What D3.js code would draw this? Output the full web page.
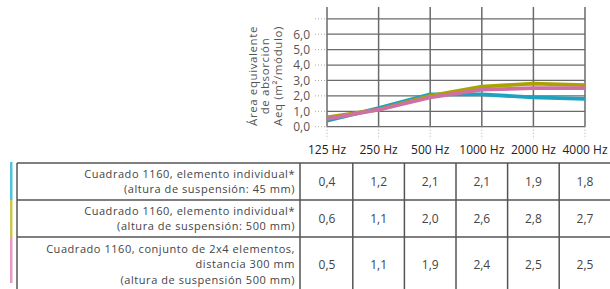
<!DOCTYPE html>
<html><head><meta charset="utf-8">
<script src="https://cdn.jsdelivr.net/npm/d3@7"></script>
<style>
html,body{margin:0;padding:0;background:#fff;}
svg{display:block;font-family:"Open Sans",sans-serif;}
</style></head>
<body>
<svg id="c" width="610" height="289"></svg>
<script>
const categories = ["125 Hz","250 Hz","500 Hz","1000 Hz","2000 Hz","4000 Hz"];
const seriesNames = [
  ["Cuadrado 1160, elemento individual*","(altura de suspensión: 45 mm)"],
  ["Cuadrado 1160, elemento individual*","(altura de suspensión: 500 mm)"],
  ["Cuadrado 1160, conjunto de 2x4 elementos,","distancia 300 mm","(altura de suspensión 500 mm)"]
];
const s1 = [0.4,1.2,2.1,2.1,1.9,1.8];
const s2 = [0.6,1.1,2.0,2.6,2.8,2.7];
const s3 = [0.5,1.1,1.9,2.4,2.5,2.5];
const yTicks = [0,1,2,3,4,5,6];
const yTickLabels = ["0,0","1,0","2,0","3,0","4,0","5,0","6,0"];
const yLabel = ["Área equivalente","de absorción","Aeq (m²/módulo)"];
const series = [s1,s2,s3];
const lineColors = ["#1ea2bd","#a9a300","#cf6fa4"];
const legendColors = ["#4ec3da","#c9c84c","#e79ac6"];

const svg = d3.select("#c");
const x = d3.scalePoint().domain(categories).range([327,585]);
const y = d3.scaleLinear().domain([0,7]).range([126.7,18.8]);
const grid = "#6a6a6a";

const gAll = d3.range(0,8);
svg.append("g").selectAll("line").data(gAll).join("line")
  .attr("x1",327).attr("x2",585).attr("y1",d=>y(d)).attr("y2",d=>y(d))
  .attr("stroke",grid).attr("stroke-width",1.3);
svg.append("g").selectAll("line").data(gAll).join("line")
  .attr("x1",315).attr("x2",326).attr("y1",d=>y(d)).attr("y2",d=>y(d))
  .attr("stroke","#aaa").attr("stroke-width",1).attr("stroke-dasharray","1,2");
svg.append("g").selectAll("line").data(categories).join("line")
  .attr("x1",d=>x(d)).attr("x2",d=>x(d)).attr("y1",7).attr("y2",y(0))
  .attr("stroke",grid).attr("stroke-width",1.5);
svg.append("g").selectAll("line").data(categories).join("line")
  .attr("x1",d=>x(d)).attr("x2",d=>x(d)).attr("y1",y(0)).attr("y2",139)
  .attr("stroke","#aaa").attr("stroke-width",1).attr("stroke-dasharray","1,2");

svg.append("g").selectAll("text").data(yTicks).join("text")
  .attr("x",310).attr("y",d=>y(d)).attr("dy","0.36em")
  .attr("text-anchor","end").attr("font-size",12).attr("fill","#555")
  .text((d,i)=>yTickLabels[i]);

const yl = svg.append("text").attr("transform","translate(265,76) rotate(-90)")
  .attr("text-anchor","middle").attr("font-size",11.5).attr("letter-spacing",0.6).attr("fill","#555");
yLabel.forEach((t,i)=>yl.append("tspan").attr("x",0).attr("y",(i-1)*12.5+4).text(t));

svg.append("g").selectAll("text").data(categories).join("text")
  .attr("x",d=>x(d)).attr("y",154).attr("text-anchor","middle")
  .attr("font-size",12).attr("font-weight",500).attr("fill","#222").text(d=>d);

const line = d3.line().x((d,i)=>x(categories[i])).y(d=>y(d));
svg.append("g").selectAll("path").data(series).join("path")
  .attr("d",line).attr("fill","none")
  .attr("stroke",(d,i)=>lineColors[i]).attr("stroke-width",3.8)
  .attr("stroke-linejoin","round");

const rowEdges = [163,200,237,290];
const tbl = svg.append("g");
const step = x.step();
const colEdges = [17,300].concat(categories.slice(1).map(c=>x(c)-step/2)).concat([615]);
series.forEach((s,i)=>{
  const t0 = i===0?162:rowEdges[i], t1 = i===2?283:rowEdges[i+1];
  tbl.append("rect").attr("x",10).attr("width",2.5).attr("y",t0).attr("height",t1-t0)
    .attr("fill",legendColors[i]);
});
rowEdges.forEach(ry=>tbl.append("line").attr("x1",17).attr("x2",615).attr("y1",ry).attr("y2",ry)
  .attr("stroke","#555").attr("stroke-width",1.5));
colEdges.forEach(cx=>tbl.append("line").attr("x1",cx).attr("x2",cx).attr("y1",rowEdges[0]).attr("y2",289)
  .attr("stroke","#555").attr("stroke-width",1.5));
series.forEach((s,i)=>{
  const top=rowEdges[i], bot=Math.min(rowEdges[i+1],288), mid=(top+bot)/2 + (i===2?2:0);
  const lines=seriesNames[i];
  const lh=15.4;
  lines.forEach((t,j)=>{
    tbl.append("text").attr("x",295).attr("y",mid+(j-(lines.length-1)/2)*lh).attr("dy","0.35em")
      .attr("text-anchor","end").attr("font-size",11).attr("letter-spacing",0.55)
      .attr("fill","#444").text(t);
  });
  s.forEach((v,k)=>{
    tbl.append("text").attr("x",x(categories[k])).attr("y",mid).attr("dy","0.35em")
      .attr("text-anchor","middle").attr("font-size",12).attr("fill","#444")
      .text(d3.format(".1f")(v).replace(".",","));
  });
});
</script>
</body></html>
